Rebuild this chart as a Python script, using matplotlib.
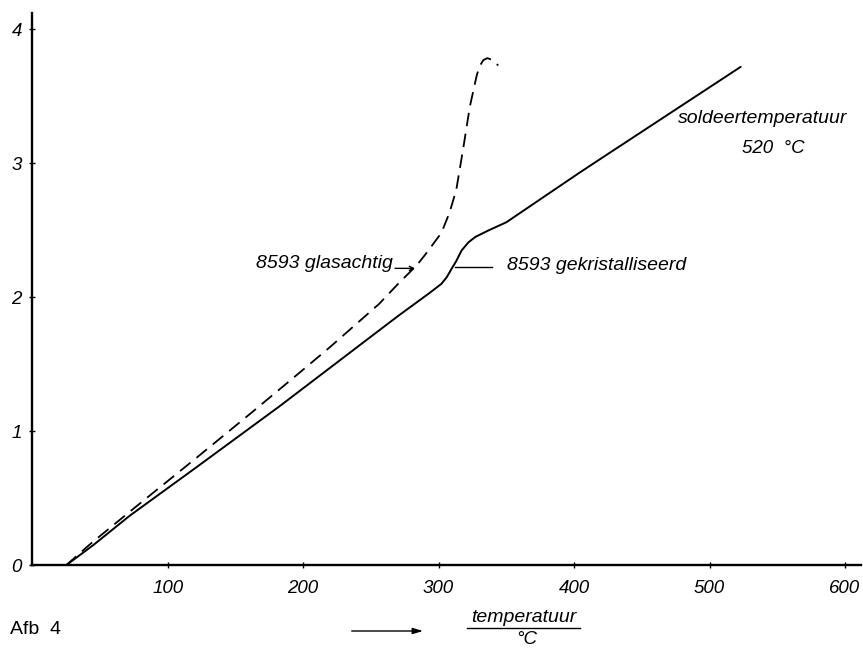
import matplotlib
matplotlib.use("Agg")
import matplotlib.pyplot as plt
from matplotlib.lines import Line2D

# ---- data ----
solid_T = [25, 45, 72, 121, 183, 244, 270, 293, 302, 306, 310, 313, 317, 322, 327, 337, 350, 404, 419, 523]
solid_v = [0, 0.15, 0.37, 0.73, 1.19, 1.66, 1.86, 2.03, 2.10, 2.15, 2.22, 2.27, 2.35, 2.41, 2.45, 2.50, 2.56, 2.93, 3.03, 3.72]

dash_T = [25, 43, 72, 121, 162, 200, 220, 256, 271, 284, 291, 302, 308, 313, 318, 323, 328, 330, 333, 336, 340, 344]
dash_v = [0, 0.16, 0.40, 0.80, 1.14, 1.46, 1.63, 1.95, 2.11, 2.24, 2.33, 2.48, 2.63, 2.80, 3.10, 3.42, 3.65, 3.72, 3.77, 3.785, 3.77, 3.73]

x_ticks = [100, 200, 300, 400, 500, 600]
y_ticks = [0, 1, 2, 3, 4]
x_ticklabels = ["100", "200", "300", "400", "500", "600"]
y_ticklabels = ["0", "1", "2", "3", "4"]

label_glass = "8593 glasachtig"
label_cryst = "8593 gekristalliseerd"
label_solder = "soldeertemperatuur"
label_solder_T = "520  °C"
xlabel_top = "temperatuur"
xlabel_bottom = "°C"
fig_label = "Afb  4"

W, H = 863, 651
fig = plt.figure(figsize=(W / 100, H / 100), dpi=100)
fig.patch.set_facecolor("white")


def fx(x):
    return x / W


def fy(y):
    return 1 - y / H


ax = fig.add_axes([fx(32.2), fy(565.3), (861 - 32.2) / W, (565.3 - 12.7) / H])
ax.set_xlim(0, 611.8)
ax.set_ylim(0, 4.124)

ax.plot(solid_T, solid_v, color="black", lw=1.4, solid_capstyle="round", solid_joinstyle="round")
ax.plot(dash_T, dash_v, color="black", lw=1.3, linestyle=(0, (7.5, 4.2)))

for s in ["top", "right"]:
    ax.spines[s].set_visible(False)
for s in ["left", "bottom"]:
    ax.spines[s].set_linewidth(1.7)
    ax.spines[s].set_color("black")

tickfont = dict(family=["Liberation Sans", "DejaVu Sans"], style="italic", size=13.5)
ax.set_xticks(x_ticks)
ax.set_xticklabels(x_ticklabels, **tickfont)
ax.set_yticks(y_ticks)
ax.set_yticklabels(y_ticklabels, **tickfont)
ax.tick_params(axis="x", direction="inout", length=4, width=1, pad=8.5)
ax.tick_params(axis="y", direction="inout", length=4, width=1, pad=5.5)

labfont = dict(family=["Liberation Sans", "DejaVu Sans"], style="italic", size=14)

# glasachtig label with arrow
ax.text(266.4, 2.254, label_glass, ha="right", va="center", **labfont)
ax.annotate("", xy=(282.6, 2.216), xytext=(267.8, 2.216),
            arrowprops=dict(arrowstyle="->,head_length=0.3,head_width=0.15", lw=1.0, color="black",
                            shrinkA=0, shrinkB=0))

# gekristalliseerd label with leader line
ax.plot([312.1, 339.2], [2.224, 2.224], color="black", lw=1.0)
ax.text(350.3, 2.24, label_cryst, ha="left", va="center", **labfont)

# solder temperature
ax.text(477, 3.336, label_solder, ha="left", va="center", **labfont)
ax.text(523.8, 3.11, label_solder_T, ha="left", va="center", **tickfont)

# x label: arrow + fraction
ax.annotate("", xy=(fx(423), fy(631)), xytext=(fx(351.7), fy(631)),
            xycoords="figure fraction", textcoords="figure fraction",
            arrowprops=dict(arrowstyle="-|>,head_length=0.6,head_width=0.18", lw=1.0, color="black",
                            shrinkA=0, shrinkB=0))
fig.text(fx(524), fy(617), xlabel_top, ha="center", va="center", **labfont)
fig.add_artist(Line2D([fx(466.7), fx(580)], [fy(628.3), fy(628.3)], color="black", lw=1.0,
                      transform=fig.transFigure))
fig.text(fx(526.7), fy(640), xlabel_bottom, ha="center", va="center", **tickfont)

fig.text(fx(10), fy(629), fig_label, ha="left", va="center",
         family=["Liberation Sans", "DejaVu Sans"], size=14)

fig.savefig("out.png", dpi=100, facecolor="white")
